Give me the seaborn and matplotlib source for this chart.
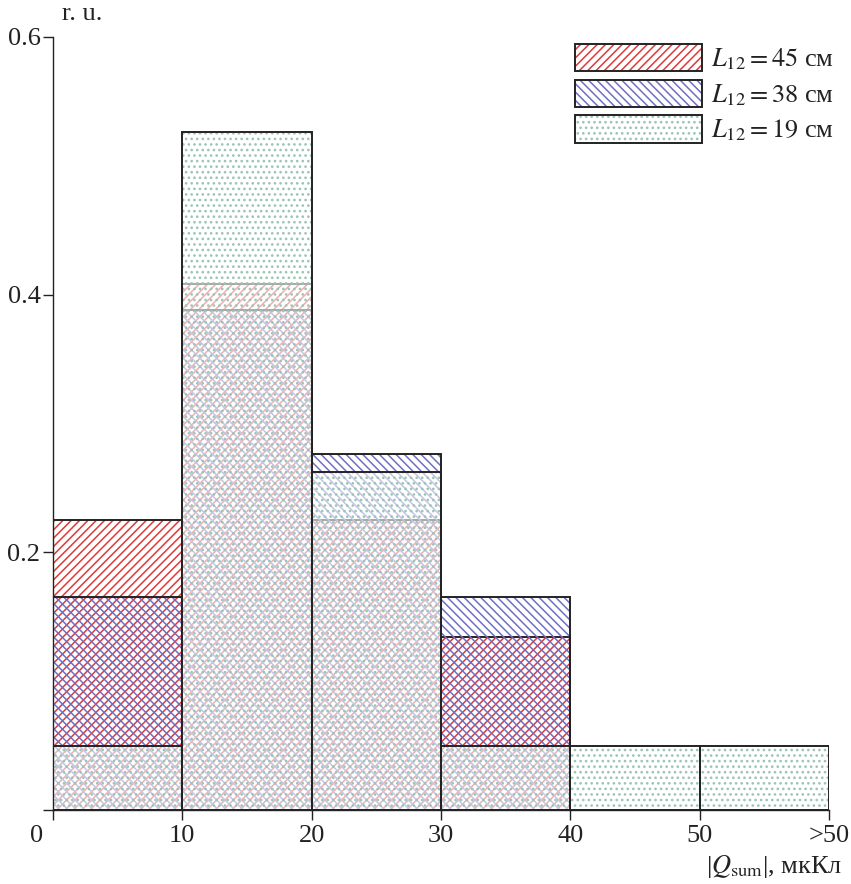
import matplotlib
matplotlib.use("Agg")
import matplotlib.pyplot as plt
import matplotlib.transforms as mtransforms
from matplotlib.patches import Patch
from matplotlib.legend_handler import HandlerTuple
import pandas as pd
import seaborn as sns

# Histogram of |Q_sum| for three electrode spacings (relative units)
bin_edges = [0, 10, 20, 30, 40, 50, 60]
bin_mids = [5, 15, 25, 35, 45, 55]
tick_labels = ["0", "10", "20", "30", "40", "50", ">50"]
share_45 = [0.225, 0.408, 0.225, 0.134, 0.0, 0.0]
share_38 = [0.165, 0.388, 0.276, 0.165, 0.0, 0.0]
share_19 = [0.05, 0.526, 0.262, 0.05, 0.05, 0.05]
labels = ["$L_{12} = 45$ см", "$L_{12} = 38$ см", "$L_{12} = 19$ см"]

sns.set_theme(style="ticks")
plt.rcParams["font.family"] = ["Liberation Serif", "DejaVu Serif"]
plt.rcParams["mathtext.fontset"] = "stix"
plt.rcParams["hatch.linewidth"] = 1.1

series = [
    dict(vals=share_45, hatch="////", color="#dd3a3a", face="none"),
    dict(vals=share_38, hatch="\\\\\\\\", color="#6f6fc4", face="none"),
    dict(vals=share_19, hatch="...", color="#9cc4b4", face=(1, 1, 1, 0.6)),
]

fig = plt.figure(figsize=(8.51, 8.84), dpi=100)
ax = fig.add_axes([53 / 851, 74 / 884, (829 - 53) / 851, (810 - 37) / 884])

handles = []
for s in series:
    df = pd.DataFrame({"q": bin_mids, "w": s["vals"]})
    # hatched body
    n0 = len(ax.patches)
    sns.histplot(data=df, x="q", weights="w", bins=bin_edges, ax=ax,
                 stat="count", element="bars", fill=True)
    for p in ax.patches[n0:]:
        p.set_facecolor(s["face"])
        p.set_edgecolor(s["color"])
        p.set_hatch(s["hatch"])
        p.set_linewidth(0)
        p.set_alpha(None)
    # black outline
    n1 = len(ax.patches)
    sns.histplot(data=df, x="q", weights="w", bins=bin_edges, ax=ax,
                 stat="count", element="bars", fill=False, color="black")
    for p in ax.patches[n1:]:
        p.set_edgecolor("#222222")
        p.set_linewidth(1.4)
        p.set_facecolor("none")
    h_body = Patch(facecolor="white", edgecolor=s["color"], hatch=s["hatch"], linewidth=0)
    h_edge = Patch(facecolor="none", edgecolor="#222222", linewidth=1.4)
    handles.append((h_body, h_edge))

ax.set_xlim(0, 60)
ax.set_ylim(0, 0.6)
ax.set_xticks(bin_edges)
ax.set_xticklabels(tick_labels)
ax.set_yticks([0, 0.2, 0.4, 0.6])
ax.set_yticklabels(["", "0.2", "0.4", "0.6"])
ax.set_xlabel("")
ax.set_ylabel("")
sns.despine(ax=ax)
for sp in ("left", "bottom"):
    ax.spines[sp].set_linewidth(1.0)
    ax.spines[sp].set_color("#222222")
ax.tick_params(axis="both", direction="out", length=7, width=1.0,
               colors="#222222", labelsize=19, labelcolor="#222222")
ax.tick_params(axis="x", pad=4)
ax.tick_params(axis="y", pad=2)

# shift the origin label to the left of the corner
lbl0 = ax.get_xticklabels()[0]
lbl0.set_transform(lbl0.get_transform() +
                   mtransforms.ScaledTranslation(-0.16, 0, fig.dpi_scale_trans))

ax.annotate("r. u.", xy=(0.011, 1.0), xycoords="axes fraction",
            xytext=(0, 12), textcoords="offset points", fontsize=19,
            ha="left", va="baseline", color="#222222")
fig.text(842 / 851, 1 - 866 / 884, "|$Q_{\\mathrm{sum}}$|, мкКл", fontsize=19,
         ha="right", va="center", color="#222222")

leg = ax.legend(handles, labels, handler_map={tuple: HandlerTuple(ndivide=1, pad=0)},
                loc="upper right", bbox_to_anchor=(1.027, 1.012), frameon=False,
                fontsize=19, handlelength=4.8, handleheight=1.2,
                labelspacing=0.3, handletextpad=0.35, borderaxespad=0.2)
for t in leg.get_texts():
    t.set_color("#222222")

fig.savefig("out.png", dpi=100, facecolor="white")
